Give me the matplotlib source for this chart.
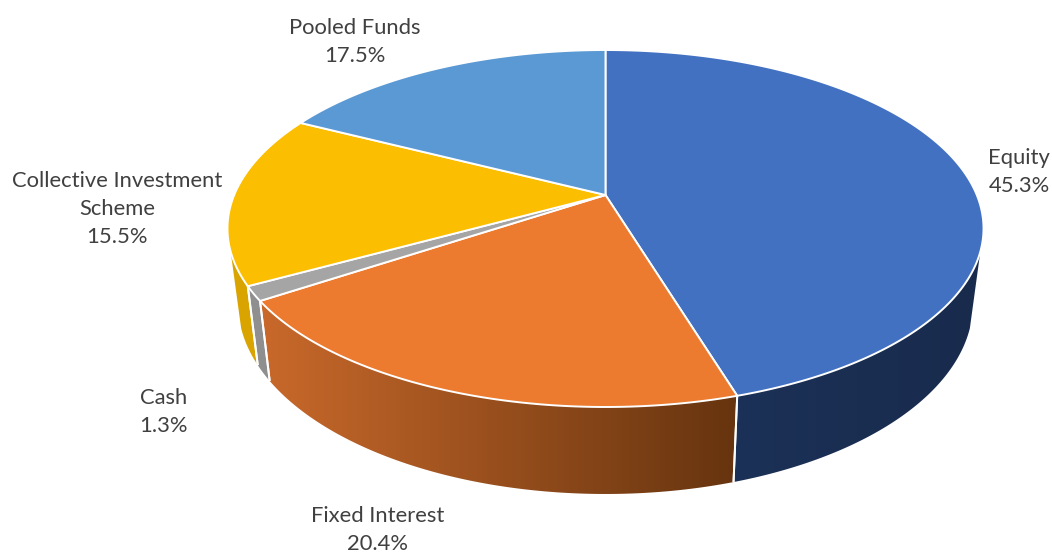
import numpy as np
import matplotlib
matplotlib.use('Agg')
import matplotlib.pyplot as plt
from matplotlib.patches import Polygon

categories = ['Equity', 'Fixed Interest', 'Cash', 'Collective Investment\nScheme', 'Pooled Funds']
shares = [45.3, 20.4, 1.3, 15.5, 17.5]
top_colors = ['#4371c2', '#ec7b30', '#a5a5a5', '#fcbe00', '#5a99d4']
# side colours: left end and right end of the gradient
side_left = ['#1c3157', '#c9692b', '#8f8f8f', '#dba500', '#3a6ea0']
side_right = ['#182b4d', '#66340f', '#8f8f8f', '#d9a300', '#3a6ea0']
label_pos = [(1019, 172), (378, 530), (163.5, 412), (117, 209), (355, 42)]

# geometry of the tilted disc, in pixels
cx, cy = 605.5, 195
persp = 0.1877
sx, sy = 371.3, 172.2
low_x, low_y, low_off = 0.972, 1.066, 73
# part of the rim that shows, degrees clockwise from the top
rim_from, rim_to = 108, 252


def rim(theta, low=False):
    t = np.radians(theta)
    X, Y = np.sin(t), np.cos(t)
    w = 1 + persp * Y
    px, py = sx * X / w, sy * Y / w
    if low:
        return cx + low_x * px, cy - low_y * py + low_off
    return cx + px, cy - py


fig = plt.figure(figsize=(10.52, 5.52), dpi=100)
ax = fig.add_axes([0, 0, 1, 1])

edges = np.cumsum([0] + shares) / sum(shares) * 360

# sides first
for i in range(len(shares)):
    start, end = max(edges[i], rim_from), min(edges[i + 1], rim_to)
    if end <= start:
        continue
    a = np.linspace(start, end, 200)
    tx, ty = rim(a)
    bx, by = rim(a, True)
    pts = np.r_[np.c_[tx, ty], np.c_[bx, by][::-1]]
    poly = Polygon(pts, closed=True, facecolor='none', edgecolor='none', zorder=2)
    ax.add_patch(poly)
    c0 = np.array(matplotlib.colors.to_rgb(side_left[i]))
    c1 = np.array(matplotlib.colors.to_rgb(side_right[i]))
    g = np.linspace(0, 1, 256)[None, :, None]
    grad = c0[None, None, :] * (1 - g) + c1[None, None, :] * g
    im = ax.imshow(grad, extent=[pts[:, 0].min(), pts[:, 0].max(), pts[:, 1].max(), pts[:, 1].min()],
                   aspect='auto', zorder=2, interpolation='bilinear')
    im.set_clip_path(poly)
    # wedge end lines on the rim
    for e in (edges[i], edges[i + 1]):
        if rim_from < e < rim_to:
            x0, y0 = rim(e)
            x1, y1 = rim(e, True)
            ax.plot([x0, x1], [y0, y1], color='white', lw=1.4, zorder=3, solid_capstyle='butt')

ax.set_xlim(0, 1052)
ax.set_ylim(552, 0)
ax.axis('off')

# top faces
for i in range(len(shares)):
    a = np.linspace(edges[i], edges[i + 1], 200)
    x, y = rim(a)
    pts = np.r_[[[cx, cy]], np.c_[x, y]]
    ax.add_patch(Polygon(pts, closed=True, facecolor=top_colors[i], edgecolor='white',
                         lw=1.4, joinstyle='round', zorder=4))

for name, val, (lx, ly) in zip(categories, shares, label_pos):
    ax.text(lx, ly, f'{name}\n{val:.1f}%', ha='center', va='center', fontsize=15.8,
            family='Lato', color='#404040', linespacing=1.5, zorder=5)

fig.savefig('out.png', dpi=100)
